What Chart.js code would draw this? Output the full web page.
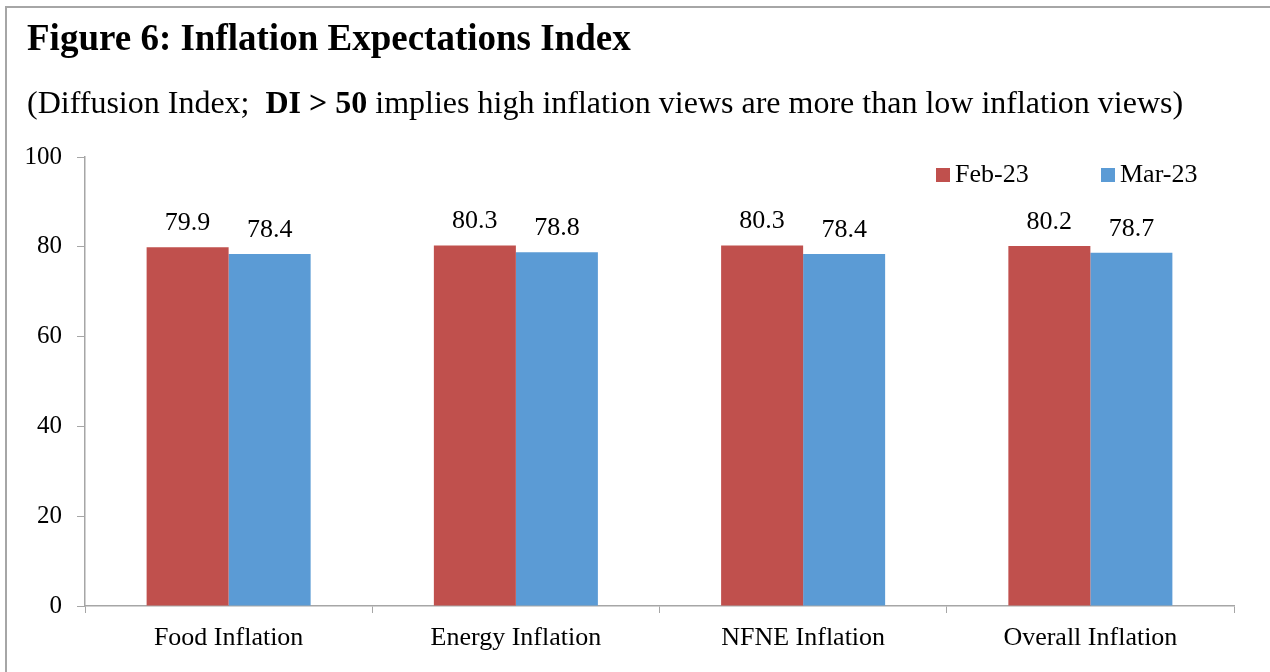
<!DOCTYPE html>
<html>
<head>
<meta charset="utf-8">
<script src="https://cdn.jsdelivr.net/npm/chart.js@4.4.1/dist/chart.umd.min.js"></script>
<style>
  html, body { margin: 0; padding: 0; background: #fff; }
  body { width: 1270px; height: 672px; position: relative; overflow: hidden; font-family: "Liberation Serif", "Times New Roman", serif; }
  #frame { position: absolute; left: 5px; top: 6px; width: 1400px; height: 800px; border-left: 2px solid #a6a6a6; border-top: 2px solid #a6a6a6; }
  #title { position: absolute; left: 27px; top: 19px; font-size: 37px; font-weight: bold; line-height: 1; white-space: nowrap; color: #000; }
  #subtitle { position: absolute; left: 27px; top: 86px; font-size: 32px; line-height: 1; white-space: nowrap; color: #000; }
  #chartWrap { position: absolute; left: 0; top: 0; width: 1270px; height: 672px; }
  .lg { position: absolute; font-size: 26px; line-height: 1; white-space: nowrap; color: #000; }
  .lgbox { position: absolute; width: 14px; height: 14px; }
</style>
</head>
<body>
<div id="frame"></div>
<div id="chartWrap"><canvas id="c" width="1270" height="672"></canvas></div>
<div id="title">Figure 6: Inflation Expectations Index</div>
<div id="subtitle">(Diffusion Index;&nbsp; <b>DI &gt; 50</b> implies high inflation views are more than low inflation views)</div>
<div id="legend"></div>
<script>
const categories = ["Food Inflation", "Energy Inflation", "NFNE Inflation", "Overall Inflation"];
const seriesNames = ["Feb-23", "Mar-23"];
const feb23 = [79.9, 80.3, 80.3, 80.2];
const mar23 = [78.4, 78.8, 78.4, 78.7];
const yTicks = [0, 20, 40, 60, 80, 100];

const RED = "#C0504D";
const BLUE = "#5B9BD5";
const FONT = '"Liberation Serif", "Times New Roman", serif';

const valueLabels = {
  id: "valueLabels",
  afterDatasetsDraw(chart) {
    const ctx = chart.ctx;
    ctx.save();
    ctx.font = "26px " + FONT;
    ctx.fillStyle = "#000";
    ctx.textAlign = "center";
    ctx.textBaseline = "alphabetic";
    chart.data.datasets.forEach((ds, i) => {
      const meta = chart.getDatasetMeta(i);
      meta.data.forEach((el, j) => {
        ctx.fillText(ds.data[j].toFixed(1), el.x, el.y - 17);
      });
    });
    ctx.restore();
  }
};

const chart = new Chart(document.getElementById("c"), {
  type: "bar",
  data: {
    labels: categories,
    datasets: [
      { label: seriesNames[0], data: feb23, backgroundColor: RED, borderWidth: 0 },
      { label: seriesNames[1], data: mar23, backgroundColor: BLUE, borderWidth: 0 }
    ]
  },
  options: {
    responsive: false,
    animation: false,
    events: [],
    layout: { padding: { left: 0, right: 36, top: 157, bottom: 0 } },
    datasets: { bar: { categoryPercentage: 0.571, barPercentage: 1.0 } },
    plugins: {
      legend: { display: false },
      title: { display: false },
      tooltip: { enabled: false }
    },
    scales: {
      x: {
        grid: { display: true, drawOnChartArea: false, drawTicks: true, tickLength: 7, color: "#a6a6a6", offset: true, lineWidth: 1 },
        border: { display: true, color: "#a6a6a6", width: 1.5 },
        ticks: { color: "#000", font: { family: FONT, size: 26 }, padding: 10, maxRotation: 0 },
        afterFit(s) { s.height = 66; }
      },
      y: {
        min: 0, max: 100,
        afterBuildTicks(s) { s.ticks = yTicks.map(v => ({ value: v })); },
        grid: { display: true, drawOnChartArea: false, drawTicks: true, tickLength: 8, color: "#a6a6a6", lineWidth: 1 },
        border: { display: true, color: "#a6a6a6", width: 1.5 },
        ticks: { color: "#000", font: { family: FONT, size: 25 }, padding: 15 },
        afterFit(s) { s.width = 85; }
      }
    }
  },
  plugins: [valueLabels]
});

// HTML legend built from the chart's datasets
const legendPos = [{ box: 936, text: 955 }, { box: 1101, text: 1120 }];
const lg = document.getElementById("legend");
chart.data.datasets.forEach((ds, i) => {
  const b = document.createElement("div");
  b.className = "lgbox";
  b.style.left = legendPos[i].box + "px";
  b.style.top = "168px";
  b.style.background = ds.backgroundColor;
  lg.appendChild(b);
  const t = document.createElement("div");
  t.className = "lg";
  t.style.left = legendPos[i].text + "px";
  t.style.top = "161px";
  t.textContent = ds.label;
  lg.appendChild(t);
});
</script>
</body>
</html>
